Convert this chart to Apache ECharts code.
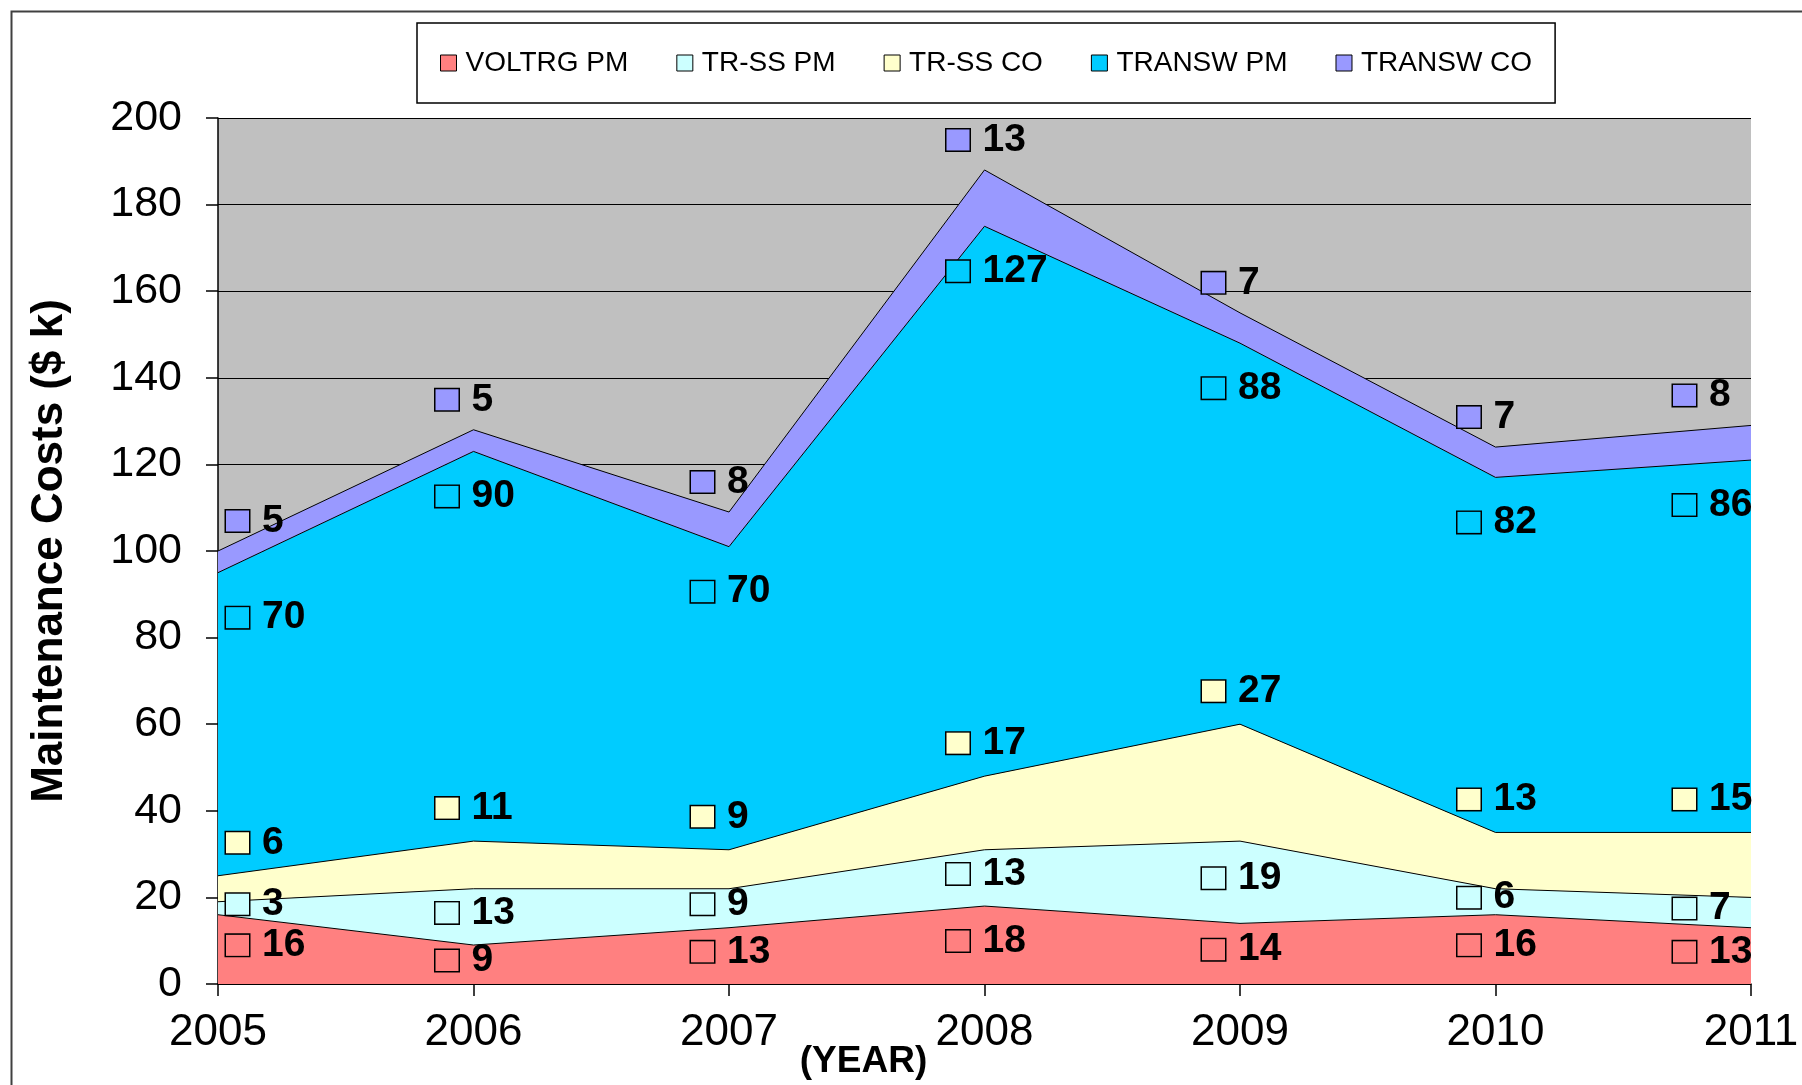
<!DOCTYPE html>
<html>
<head>
<meta charset="utf-8">
<script src="https://cdn.jsdelivr.net/npm/echarts@6/dist/echarts.min.js"></script>
<style>
html,body{margin:0;padding:0;background:#fff;}
#c{width:1802px;height:1085px;}
</style>
</head>
<body>
<div id="c"></div>
<script>
// ---- data ----
const years = ['2005', '2006', '2007', '2008', '2009', '2010', '2011'];
const seriesNames = ['VOLTRG PM', 'TR-SS PM', 'TR-SS CO', 'TRANSW PM', 'TRANSW CO'];
const voltrgPM = [16, 9, 13, 18, 14, 16, 13];
const trssPM   = [3, 13, 9, 13, 19, 6, 7];
const trssCO   = [6, 11, 9, 17, 27, 13, 15];
const transwPM = [70, 90, 70, 127, 88, 82, 86];
const transwCO = [5, 5, 8, 13, 7, 7, 8];
const seriesValues = [voltrgPM, trssPM, trssCO, transwPM, transwCO];

// ---- styles ----
const colors = ['#FF8080', '#CCFFFF', '#FFFFCC', '#00CCFF', '#9999FF'];
// label anchor: fraction of the band height (0.5 = middle of band, 1 = top of band)
const labelAnchor = [0.5, 0.5, 1, 1, 1];
const labelDy = [-4, -4, -33, 45, -30];
const FONT = '"Liberation Sans", Arial, sans-serif';

function labelDx(i) {
  if (i === 0) return 8;
  if (i === years.length - 1) return -78;
  return -38;
}

const chart = echarts.init(document.getElementById('c'), null, {renderer: 'canvas'});

const series = [];
seriesValues.forEach((vals, k) => {
  series.push({
    name: seriesNames[k],
    type: 'line',
    stack: 'total',
    data: vals,
    symbol: 'none',
    smooth: false,
    lineStyle: {color: '#000', width: 1},
    itemStyle: {color: colors[k]},
    areaStyle: {color: colors[k], opacity: 1},
    z: 2
  });
});
seriesValues.forEach((vals, k) => {
  const data = vals.map((v, i) => {
    let base = 0;
    for (let j = 0; j < k; j++) base += seriesValues[j][i];
    return {
      value: base + v * labelAnchor[k],
      raw: v,
      label: {offset: [labelDx(i), labelDy[k]]}
    };
  });
  series.push({
    name: seriesNames[k],
    type: 'line',
    data: data,
    symbol: 'circle',
    symbolSize: 0.1,
    showSymbol: true,
    showAllSymbol: true,
    silent: true,
    lineStyle: {width: 0, color: 'rgba(0,0,0,0)'},
    itemStyle: {color: 'rgba(0,0,0,0)'},
    z: 10,
    label: {
      show: true,
      position: 'inside',
      align: 'left',
      verticalAlign: 'middle',
      formatter: p => '{m|}{v|' + p.data.raw + '}',
      rich: {
        m: {width: 23, height: 21, backgroundColor: colors[k], borderColor: '#000', borderWidth: 1.5},
        v: {fontSize: 39, fontWeight: 'bold', color: '#000', fontFamily: FONT, padding: [0, 0, 0, 13]}
      }
    }
  });
});

const option = {
  backgroundColor: '#fff',
  animation: false,
  graphic: [{
    type: 'rect',
    left: 9, top: 9,
    shape: {width: 1900, height: 1200},
    style: {fill: 'none', stroke: '#404040', lineWidth: 2},
    silent: true,
    z: 0
  }],
  legend: {
    left: 417, top: 23,
    padding: [26, 23, 26, 23],
    itemGap: 48,
    itemWidth: 16, itemHeight: 16,
    itemStyle: {borderColor: '#000', borderWidth: 1},
    backgroundColor: '#fff',
    borderColor: '#000',
    borderWidth: 1.5,
    textStyle: {fontSize: 28, color: '#000', fontFamily: FONT, padding: [0, 0, 0, 4]},
    data: seriesNames.map((n, k) => ({name: n, icon: 'rect', itemStyle: {color: colors[k], borderColor: '#000', borderWidth: 1}}))
  },
  grid: {
    left: 218, right: 51, top: 118, bottom: 101,
    show: true, backgroundColor: '#C0C0C0', borderWidth: 0,
    outerBoundsMode: 'none', containLabel: false
  },
  xAxis: {
    type: 'category',
    data: years,
    boundaryGap: false,
    name: '(YEAR)',
    nameLocation: 'middle',
    nameGap: 59,
    nameMoveOverlap: false,
    nameTextStyle: {fontSize: 37, fontWeight: 'bold', color: '#000', fontFamily: FONT, padding: [0, 242, 0, 0]},
    axisLine: {show: true, lineStyle: {color: '#000', width: 1.5}},
    axisTick: {show: true, length: 12, lineStyle: {color: '#000', width: 1.5}},
    axisLabel: {fontSize: 44, color: '#000', fontFamily: FONT, margin: 27, interval: 0},
    splitLine: {show: false}
  },
  yAxis: {
    type: 'value',
    min: 0, max: 200, interval: 20,
    name: 'Maintenance Costs ($ k)',
    nameLocation: 'middle',
    nameGap: 146,
    nameMoveOverlap: false,
    nameRotate: 90,
    nameTextStyle: {fontSize: 44, fontWeight: 'bold', color: '#000', fontFamily: FONT},
    axisLine: {show: true, lineStyle: {color: '#000', width: 1.5}},
    axisTick: {show: true, length: 12, lineStyle: {color: '#000', width: 1.5}},
    axisLabel: {fontSize: 43, color: '#000', fontFamily: FONT, margin: 36},
    splitLine: {show: true, lineStyle: {color: '#000', width: 1.2}}
  },
  series: series
};
chart.setOption(option);
</script>
</body>
</html>
